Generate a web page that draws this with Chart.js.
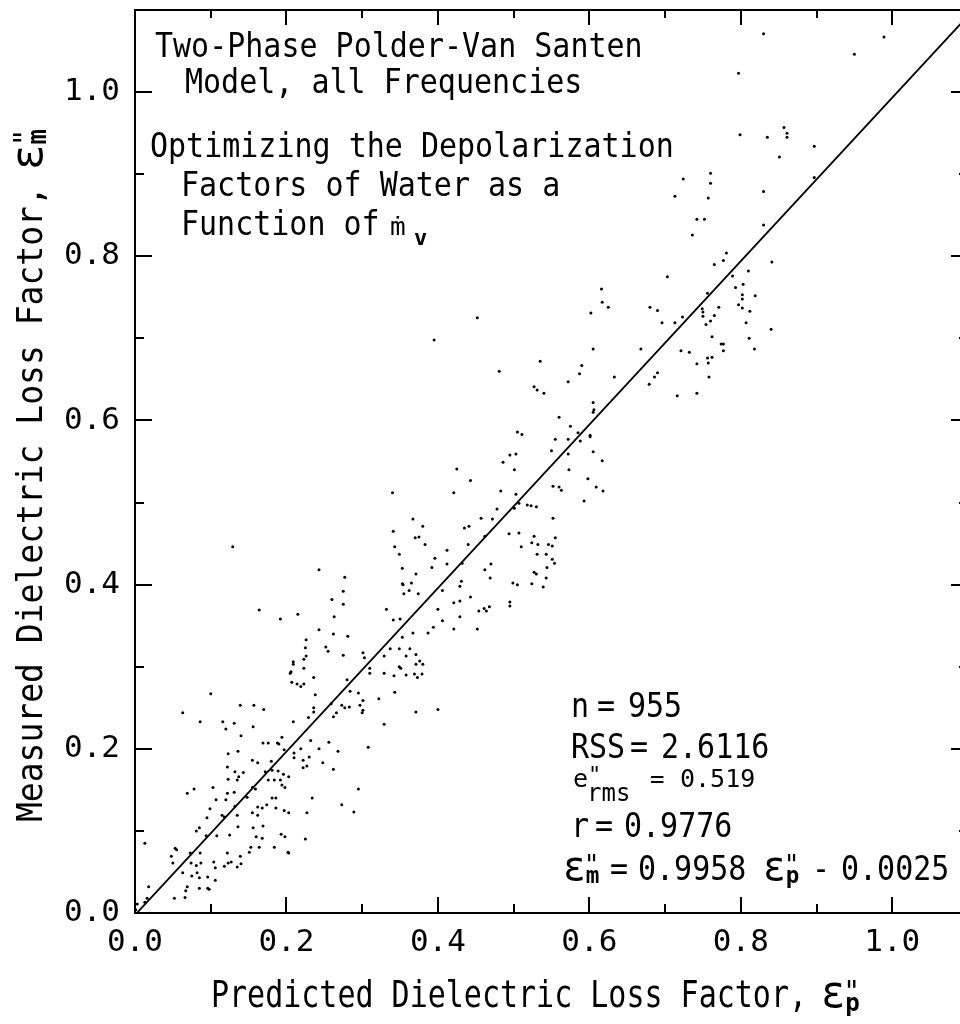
<!DOCTYPE html>
<html>
<head>
<meta charset="utf-8">
<title>Two-Phase Polder-Van Santen Model — measured vs predicted loss factor</title>
<script src="https://cdn.jsdelivr.net/npm/chart.js@4.4.1/dist/chart.umd.min.js"></script>
<style>
  html, body { margin: 0; padding: 0; background: #fff; overflow: hidden; }
  #wrap { width: 960px; height: 1024px; overflow: hidden; }
  canvas { display: block; }
</style>
</head>
<body>
<div id="wrap"><canvas id="chart" width="1000" height="1024"></canvas></div>
<script>
/* ---------------------------------------------------------
   Measured vs predicted dielectric loss factor scatter
   --------------------------------------------------------- */

const FONT = '"DejaVu Sans Mono", "Liberation Mono", monospace';
const INK  = '#000';

// shared axis range / ticks (both axes run 0 .. 1.1)
const AXIS_MIN    = 0;
const AXIS_MAX    = 1.1;
const TICK_STEP   = 0.1;
const TICK_LABELS = ['0.0', '0.2', '0.4', '0.6', '0.8', '1.0'];

// regression line  e"m = a e"p + b
const FIT_SLOPE     = 0.9958;
const FIT_INTERCEPT = -0.0025;

// summary statistics printed in the plot
const STAT_N    = '955';
const STAT_RSS  = '2.6116';
const STAT_ERMS = '0.519';
const STAT_R    = '0.9776';

const TITLE_LINES = ['Two-Phase Polder-Van Santen', 'Model, all Frequencies'];
const NOTE_LINES  = ['Optimizing the Depolarization', 'Factors of Water as a', 'Function of'];
const X_TITLE = 'Predicted Dielectric Loss Factor, ';
const Y_TITLE = 'Measured Dielectric Loss Factor, ';
const EPS = 'ε';

// [predicted, measured] pairs, grouped by region of the plot
const upperCluster = [
  [0.830, 1.071], [0.989, 1.067], [0.950, 1.046], [0.797, 1.023], [0.799, 0.948],
  [0.835, 0.945], [0.857, 0.957], [0.861, 0.950], [0.861, 0.945], [0.897, 0.934],
  [0.851, 0.921], [0.897, 0.896], [0.760, 0.901], [0.724, 0.894], [0.760, 0.889],
  [0.713, 0.873], [0.757, 0.871], [0.830, 0.879], [0.742, 0.845], [0.752, 0.845],
  [0.736, 0.826], [0.830, 0.838], [0.781, 0.804], [0.777, 0.795], [0.765, 0.790],
  [0.841, 0.793], [0.703, 0.775], [0.789, 0.776], [0.810, 0.782], [0.793, 0.762],
  [0.803, 0.766], [0.802, 0.753], [0.819, 0.752], [0.616, 0.760], [0.756, 0.755],
  [0.802, 0.748], [0.797, 0.741], [0.802, 0.737], [0.812, 0.733], [0.807, 0.719],
  [0.811, 0.700], [0.818, 0.687], [0.840, 0.711], [0.749, 0.736], [0.750, 0.732],
  [0.750, 0.727], [0.765, 0.728], [0.760, 0.721], [0.771, 0.738], [0.754, 0.717],
  [0.762, 0.702], [0.774, 0.693], [0.777, 0.693], [0.777, 0.685], [0.756, 0.676],
  [0.762, 0.677], [0.757, 0.670], [0.742, 0.669], [0.758, 0.653], [0.742, 0.633],
  [0.716, 0.630], [0.721, 0.685], [0.732, 0.683], [0.723, 0.726], [0.713, 0.719],
  [0.696, 0.719], [0.690, 0.734], [0.680, 0.738], [0.668, 0.687], [0.690, 0.658],
  [0.686, 0.653], [0.679, 0.644], [0.633, 0.653], [0.617, 0.744], [0.625, 0.738],
  [0.602, 0.731], [0.605, 0.687], [0.590, 0.667], [0.587, 0.657], [0.572, 0.647],
  [0.535, 0.672], [0.527, 0.641], [0.531, 0.637], [0.540, 0.633], [0.452, 0.725],
  [0.481, 0.660], [0.395, 0.698],
];

const middleCluster = [
  [0.605, 0.622], [0.606, 0.613], [0.605, 0.610], [0.560, 0.604], [0.575, 0.593],
  [0.585, 0.585], [0.588, 0.575], [0.601, 0.582], [0.601, 0.580], [0.605, 0.562],
  [0.617, 0.551], [0.572, 0.577], [0.555, 0.577], [0.550, 0.563], [0.572, 0.559],
  [0.573, 0.540], [0.598, 0.529], [0.609, 0.519], [0.618, 0.514], [0.593, 0.502],
  [0.552, 0.520], [0.560, 0.519], [0.563, 0.515], [0.552, 0.481], [0.555, 0.457],
  [0.505, 0.586], [0.511, 0.583], [0.503, 0.559], [0.495, 0.558], [0.486, 0.549],
  [0.501, 0.540], [0.483, 0.514], [0.503, 0.510], [0.443, 0.527], [0.425, 0.541],
  [0.421, 0.512], [0.518, 0.497], [0.523, 0.496], [0.530, 0.495], [0.478, 0.492],
  [0.457, 0.481], [0.472, 0.480], [0.435, 0.469], [0.441, 0.471], [0.440, 0.449],
  [0.494, 0.462], [0.507, 0.463], [0.510, 0.446], [0.527, 0.459], [0.524, 0.451],
  [0.532, 0.449], [0.546, 0.449], [0.551, 0.447], [0.531, 0.437], [0.543, 0.437],
  [0.551, 0.431], [0.554, 0.426], [0.544, 0.421], [0.527, 0.415], [0.530, 0.413],
  [0.524, 0.401], [0.543, 0.408], [0.539, 0.397], [0.470, 0.425], [0.462, 0.418],
  [0.469, 0.408], [0.499, 0.402], [0.505, 0.400], [0.431, 0.404], [0.429, 0.398],
  [0.421, 0.378], [0.429, 0.380], [0.443, 0.385], [0.495, 0.379], [0.495, 0.374],
  [0.454, 0.368], [0.461, 0.371], [0.464, 0.368], [0.468, 0.373], [0.429, 0.361],
  [0.421, 0.346], [0.452, 0.346], [0.462, 0.459], [0.501, 0.493], [0.507, 0.499],
  [0.432, 0.426],
];

const lowerCluster = [
  [0.340, 0.512], [0.341, 0.465], [0.343, 0.446], [0.349, 0.437], [0.367, 0.480],
  [0.380, 0.471], [0.370, 0.457], [0.375, 0.458], [0.383, 0.449], [0.353, 0.420],
  [0.396, 0.432], [0.412, 0.442], [0.412, 0.425], [0.392, 0.421], [0.371, 0.413],
  [0.353, 0.401], [0.354, 0.400], [0.365, 0.402], [0.355, 0.389], [0.374, 0.389],
  [0.362, 0.393], [0.332, 0.370], [0.350, 0.358], [0.341, 0.357], [0.406, 0.393],
  [0.400, 0.370], [0.406, 0.356], [0.367, 0.341], [0.353, 0.336], [0.387, 0.341],
  [0.394, 0.348], [0.363, 0.322], [0.349, 0.322], [0.337, 0.322], [0.371, 0.315],
  [0.376, 0.307], [0.380, 0.303], [0.349, 0.300], [0.351, 0.298], [0.371, 0.303],
  [0.358, 0.313], [0.329, 0.313], [0.329, 0.292], [0.342, 0.289], [0.358, 0.290],
  [0.369, 0.291], [0.379, 0.291], [0.373, 0.287], [0.343, 0.269], [0.371, 0.245],
  [0.400, 0.248], [0.322, 0.261], [0.310, 0.298], [0.301, 0.317], [0.303, 0.311],
  [0.310, 0.292], [0.295, 0.268], [0.301, 0.259], [0.297, 0.253], [0.283, 0.251],
  [0.277, 0.250], [0.273, 0.253], [0.284, 0.270], [0.280, 0.284], [0.266, 0.244],
  [0.262, 0.239], [0.259, 0.255], [0.243, 0.418], [0.277, 0.409], [0.275, 0.392],
  [0.260, 0.382], [0.275, 0.376], [0.263, 0.361], [0.243, 0.345], [0.262, 0.340],
  [0.281, 0.337], [0.252, 0.324], [0.255, 0.319], [0.275, 0.314], [0.226, 0.333],
  [0.225, 0.323], [0.223, 0.309], [0.223, 0.298], [0.226, 0.313], [0.209, 0.306],
  [0.209, 0.303], [0.205, 0.292], [0.206, 0.294], [0.207, 0.281], [0.214, 0.279],
  [0.219, 0.276], [0.223, 0.279], [0.236, 0.287], [0.238, 0.266], [0.236, 0.250],
  [0.236, 0.245], [0.229, 0.238], [0.215, 0.364], [0.192, 0.358], [0.164, 0.369],
  [0.129, 0.446], [0.100, 0.267], [0.063, 0.244], [0.139, 0.253], [0.157, 0.253],
  [0.170, 0.248],
];

const lowCorner = [
  [0.086, 0.233], [0.116, 0.233], [0.120, 0.224], [0.131, 0.231], [0.140, 0.216],
  [0.156, 0.227], [0.209, 0.233], [0.301, 0.247], [0.300, 0.244], [0.329, 0.230],
  [0.194, 0.214], [0.169, 0.207], [0.176, 0.207], [0.188, 0.207], [0.190, 0.206],
  [0.197, 0.199], [0.210, 0.195], [0.219, 0.200], [0.232, 0.210], [0.243, 0.200],
  [0.256, 0.208], [0.268, 0.197], [0.308, 0.202], [0.123, 0.194], [0.136, 0.197],
  [0.155, 0.186], [0.162, 0.183], [0.180, 0.185], [0.122, 0.178], [0.132, 0.172],
  [0.137, 0.166], [0.123, 0.163], [0.143, 0.171], [0.135, 0.162], [0.172, 0.172],
  [0.181, 0.174], [0.189, 0.173], [0.184, 0.162], [0.196, 0.169], [0.176, 0.162],
  [0.192, 0.162], [0.203, 0.166], [0.210, 0.189], [0.222, 0.186], [0.230, 0.190],
  [0.222, 0.177], [0.227, 0.179], [0.248, 0.183], [0.262, 0.175], [0.155, 0.153],
  [0.159, 0.151], [0.194, 0.156], [0.198, 0.153], [0.103, 0.153], [0.078, 0.151],
  [0.069, 0.146], [0.122, 0.146], [0.131, 0.147], [0.148, 0.141], [0.181, 0.140],
  [0.186, 0.140], [0.234, 0.140], [0.295, 0.151], [0.107, 0.138], [0.120, 0.138],
  [0.132, 0.130], [0.135, 0.119], [0.118, 0.117], [0.095, 0.116], [0.099, 0.127],
  [0.115, 0.119], [0.162, 0.129], [0.168, 0.128], [0.174, 0.132], [0.186, 0.128],
  [0.197, 0.125], [0.203, 0.122], [0.227, 0.122], [0.273, 0.132], [0.289, 0.123],
  [0.155, 0.122], [0.162, 0.119], [0.169, 0.106], [0.085, 0.104], [0.081, 0.100],
  [0.094, 0.094], [0.108, 0.094], [0.125, 0.095], [0.136, 0.105], [0.156, 0.104],
  [0.160, 0.093], [0.153, 0.080], [0.164, 0.080], [0.168, 0.091], [0.184, 0.080],
  [0.193, 0.096], [0.198, 0.093], [0.202, 0.074], [0.203, 0.073], [0.225, 0.090],
  [0.053, 0.079], [0.048, 0.069], [0.050, 0.061], [0.055, 0.077], [0.073, 0.073],
  [0.086, 0.073], [0.074, 0.061], [0.081, 0.058], [0.087, 0.061], [0.104, 0.062],
  [0.122, 0.073], [0.123, 0.061], [0.127, 0.062], [0.139, 0.069], [0.140, 0.060],
  [0.151, 0.074], [0.135, 0.056], [0.106, 0.055], [0.118, 0.057], [0.063, 0.049],
  [0.075, 0.045], [0.082, 0.049], [0.085, 0.043], [0.096, 0.044], [0.106, 0.040],
  [0.098, 0.029], [0.085, 0.030], [0.096, 0.030], [0.069, 0.032], [0.067, 0.027],
  [0.066, 0.019], [0.052, 0.018], [0.018, 0.032], [0.016, 0.018], [0.013, 0.085],
  [0.003, 0.011], [0.001, 0.004], [0.013, 0.013],
];

const allPairs = [...upperCluster, ...middleCluster, ...lowerCluster, ...lowCorner];
const scatterData = allPairs.map(([x, y]) => ({ x, y }));
const fitLine = [AXIS_MIN, AXIS_MAX].map(x => ({ x, y: FIT_SLOPE * x + FIT_INTERCEPT }));

function tickLabel(v) {
  const i = Math.round(v / TICK_STEP);
  return i % 2 === 0 ? (TICK_LABELS[i / 2] || '') : '';
}

// text helper: glyphs are a touch taller than the mono font draws them
function say(ctx, s, x, y, size, stretch = 1.18, bold = false) {
  ctx.save();
  ctx.translate(x, y);
  ctx.scale(1, stretch);
  ctx.font = (bold ? 'bold ' : '') + size + 'px ' + FONT;
  ctx.fillText(s, 0, 0);
  ctx.restore();
}

function textWidth(ctx, s, size, bold = false) {
  ctx.save();
  ctx.font = (bold ? 'bold ' : '') + size + 'px ' + FONT;
  const w = ctx.measureText(s).width;
  ctx.restore();
  return w;
}

// big epsilon, then a double prime with a subscript stacked under it
function epsMark(ctx, x, y, sub, size, stretch) {
  const es = size * 1.3;
  say(ctx, EPS, x, y, es, stretch);
  const ex = x + textWidth(ctx, EPS, es) - 1;
  say(ctx, '"', ex - 1, y - 0.2 * size, 0.9 * size, 1);
  say(ctx, sub, ex + 1, y + 0.12 * size, 0.78 * size, 1.05, true);
}

const framePlugin = {
  id: 'frameAndText',
  afterDraw(chart) {
    const ctx = chart.ctx;
    const { left, right, top, bottom } = chart.chartArea;
    const xs = chart.scales.x, ys = chart.scales.y;

    ctx.save();
    ctx.strokeStyle = INK;
    ctx.fillStyle = INK;
    ctx.lineWidth = 2;
    ctx.strokeRect(left, top, right - left, bottom - top);

    // inward tick marks on all four sides
    ctx.beginPath();
    xs.ticks.forEach(t => {
      const len = tickLabel(t.value) ? 16 : 9;
      const px = Math.round(xs.getPixelForValue(t.value));
      ctx.moveTo(px, bottom); ctx.lineTo(px, bottom - len);
      ctx.moveTo(px, top);    ctx.lineTo(px, top + len - 1);
    });
    ys.ticks.forEach(t => {
      const len = tickLabel(t.value) ? 17 : 9;
      const py = Math.round(ys.getPixelForValue(t.value));
      ctx.moveTo(left, py);  ctx.lineTo(left + len, py);
      ctx.moveTo(right, py); ctx.lineTo(right - len, py);
    });
    ctx.stroke();

    ctx.textAlign = 'left';
    ctx.textBaseline = 'alphabetic';

    // header notes
    say(ctx, TITLE_LINES[0], 155, 57, 30, 1.15);
    say(ctx, TITLE_LINES[1], 185, 93, 30, 1.15);
    say(ctx, NOTE_LINES[0], 150, 157, 30, 1.15);
    say(ctx, NOTE_LINES[1], 181, 196, 30, 1.15);
    say(ctx, NOTE_LINES[2], 181, 235, 30, 1.15);
    say(ctx, 'ṁ', 390, 235, 26, 0.95);
    say(ctx, 'v', 414, 245, 22, 1, true);

    // statistics block
    say(ctx, 'n', 571, 717, 30, 1.1);
    say(ctx, '=', 597, 717, 30, 1.1);
    say(ctx, STAT_N, 628, 717, 30, 1.1);

    say(ctx, 'RSS', 571, 758, 30, 1.1);
    say(ctx, '=', 630, 758, 30, 1.1);
    say(ctx, STAT_RSS, 661, 758, 30, 1.1);

    say(ctx, 'e', 573, 787, 25, 1);
    say(ctx, '"', 588, 782, 22, 1);
    say(ctx, 'rms', 587, 801, 24, 1);
    say(ctx, '=', 650, 787, 24, 1);
    say(ctx, STAT_ERMS, 680, 787, 25, 1);

    say(ctx, 'r', 571, 837, 30, 1.1);
    say(ctx, '=', 595, 837, 30, 1.1);
    say(ctx, STAT_R, 624, 837, 30, 1.1);

    epsMark(ctx, 563, 880, 'm', 29, 1.1);
    say(ctx, '=', 610, 880, 30, 1.1);
    say(ctx, FIT_SLOPE.toFixed(4), 638, 880, 30, 1.1);
    epsMark(ctx, 763, 880, 'p', 29, 1.1);
    say(ctx, FIT_INTERCEPT < 0 ? '-' : '+', 812, 880, 30, 1.1);
    say(ctx, Math.abs(FIT_INTERCEPT).toFixed(4), 841, 880, 30, 1.1);

    // x axis title
    say(ctx, X_TITLE, 211, 1007, 30, 1.22);
    epsMark(ctx, 211 + textWidth(ctx, X_TITLE, 30) - 4, 1007, 'p', 31, 1.1);

    // y axis title (rotated)
    ctx.save();
    ctx.translate(42, 822);
    ctx.rotate(-Math.PI / 2);
    say(ctx, Y_TITLE, 0, 0, 33, 1.1);
    epsMark(ctx, textWidth(ctx, Y_TITLE, 33) - 4, 0, 'm', 33, 1.05);
    ctx.restore();

    ctx.restore();
  },
};

const axisTicks = {
  stepSize: TICK_STEP,
  autoSkip: false,
  maxRotation: 0,
  minRotation: 0,
  color: INK,
  font: { family: FONT, size: 31 },
  callback: v => tickLabel(v),
};

new Chart(document.getElementById('chart').getContext('2d'), {
  type: 'scatter',
  data: {
    datasets: [
      {
        label: 'observations',
        data: scatterData,
        pointRadius: 1.5,
        pointHoverRadius: 1.5,
        pointBackgroundColor: INK,
        pointBorderWidth: 0,
        showLine: false,
      },
      {
        label: 'fit',
        data: fitLine,
        showLine: true,
        borderColor: INK,
        borderWidth: 1.8,
        pointRadius: 0,
        pointHoverRadius: 0,
        fill: false,
        clip: 0,
      },
    ],
  },
  options: {
    responsive: false,
    animation: false,
    events: [],
    devicePixelRatio: 1,
    layout: { padding: { top: 10, right: 32, left: 0, bottom: 0 } },
    plugins: {
      legend:  { display: false },
      tooltip: { enabled: false },
    },
    scales: {
      x: {
        type: 'linear',
        position: 'bottom',
        min: AXIS_MIN,
        max: AXIS_MAX,
        grid:   { display: false, drawTicks: false },
        border: { display: false },
        ticks:  { ...axisTicks, padding: 11 },
        afterFit: s => { s.height = 111; s.paddingLeft = 0; s.paddingRight = 0; },
      },
      y: {
        type: 'linear',
        position: 'left',
        min: AXIS_MIN,
        max: AXIS_MAX,
        grid:   { display: false, drawTicks: false },
        border: { display: false },
        ticks:  { ...axisTicks, padding: 15 },
        afterFit: s => { s.width = 135; s.paddingTop = 0; s.paddingBottom = 0; },
      },
    },
  },
  plugins: [framePlugin],
});
</script>
</body>
</html>
